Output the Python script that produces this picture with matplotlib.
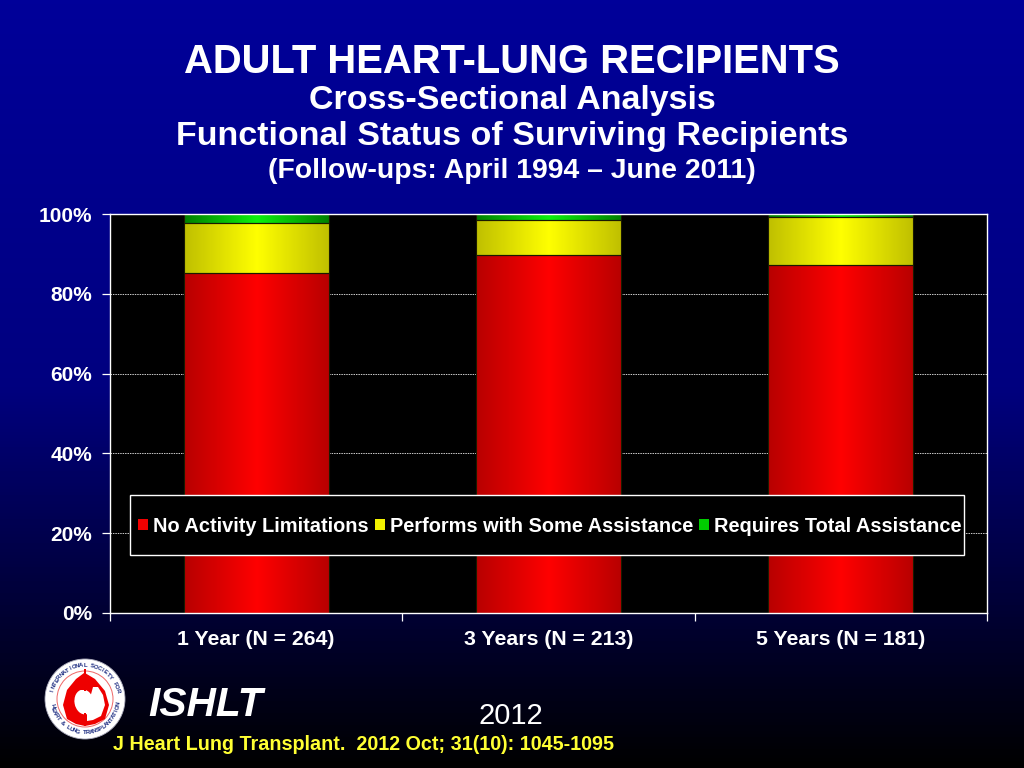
import numpy as np
import matplotlib
matplotlib.use("Agg")
import matplotlib.pyplot as plt
from matplotlib.colors import LinearSegmentedColormap
from matplotlib.patches import Patch, Circle, Ellipse, Polygon, Rectangle

categories = ["1 Year (N = 264)", "3 Years (N = 213)", "5 Years (N = 181)"]
series_names = ["No Activity Limitations", "Performs with Some Assistance", "Requires Total Assistance"]
no_limits = [85.2, 89.6, 87.3]
some_assist = [12.5, 9.0, 12.0]
total_assist = [2.3, 1.4, 0.7]
y_ticks = [0, 20, 40, 60, 80, 100]
y_labels = ["0%", "20%", "40%", "60%", "80%", "100%"]

plt.rcParams['font.family'] = ['Liberation Sans', 'DejaVu Sans']
W, H = 1024, 768
fig = plt.figure(figsize=(W / 100, H / 100), dpi=100)

# background
bg = fig.add_axes([0, 0, 1, 1], zorder=0)
bg.axis('off')
bg_cmap = LinearSegmentedColormap.from_list('bg', [(0, 0, 0.6), (0, 0, 0.5), (0, 0, 0.0)])
bg.imshow(np.linspace(0, 1, 256)[:, None], cmap=bg_cmap, aspect='auto', extent=[0, 1, 0, 1], vmin=0, vmax=1)

# chart
ax = fig.add_axes([110 / W, 1 - 613 / H, 877 / W, 399 / H], zorder=2)
ax.set_facecolor('black')
x = np.arange(len(categories))
bar_w = 0.497
cmaps = [
    LinearSegmentedColormap.from_list('r', [(0.72, 0, 0), (1, 0, 0), (0.72, 0, 0)]),
    LinearSegmentedColormap.from_list('y', [(0.75, 0.75, 0), (1, 1, 0), (0.75, 0.75, 0)]),
    LinearSegmentedColormap.from_list('g', [(0, 0.5, 0), (0.05, 0.95, 0.05), (0, 0.5, 0)]),
]
grad = np.linspace(0, 1, 128)[None, :]
bottom = np.zeros(3)
for vals, cmap in zip([no_limits, some_assist, total_assist], cmaps):
    bars = ax.bar(x, vals, bar_w, bottom=bottom, color=cmap(0.5), zorder=2)
    for b in bars:
        im = ax.imshow(grad, cmap=cmap, aspect='auto', zorder=2.1,
                       extent=[b.get_x(), b.get_x() + b.get_width(), b.get_y(), b.get_y() + b.get_height()])
        im.set_clip_path(b)
    ax.bar(x, vals, bar_w, bottom=bottom, fill=False, edgecolor=(0.1, 0.1, 0), linewidth=0.8, zorder=2.2)
    bottom = bottom + np.array(vals)

ax.set_xlim(-0.5, 2.5)
ax.set_ylim(0, 100)
ax.set_yticks(y_ticks)
ax.set_yticklabels(y_labels, color='white', fontsize=15, fontweight='bold', va='center_baseline')
ax.set_xticks(np.arange(len(categories) + 1) - 0.5)
ax.set_xticklabels([])
ax.set_xticks(x, minor=True)
ax.set_xticklabels(categories, minor=True, color='white', fontsize=15.3, fontweight='bold')
ax.tick_params(axis='x', which='minor', length=0, pad=12.5)
ax.tick_params(axis='both', which='major', color='white', length=6, width=0.9, direction='out')
ax.tick_params(axis='y', pad=7)
ax.grid(axis='y', color='#cccccc', linestyle=(0, (1.5, 1)), linewidth=0.7, zorder=1)
ax.set_axisbelow(True)
for s in ax.spines.values():
    s.set_color('white')
    s.set_linewidth(1.0)
    s.set_zorder(5)

# legend: frame is drawn by hand so its padding can be asymmetric like the original
ax.add_patch(Rectangle(((130 - 110) / 877, (613 - 555) / 399), 834 / 877, 60 / 399, transform=ax.transAxes,
                       facecolor='black', edgecolor='white', linewidth=1.0, zorder=6))
handles = [Patch(facecolor=c, edgecolor='none') for c in [(0.95, 0, 0), (0.95, 0.95, 0), (0, 0.8, 0)]]
leg = ax.legend(handles, series_names, ncol=3, loc='center left',
                bbox_to_anchor=((138 - 110) / 877, (613 - 526) / 399), frameon=False,
                labelcolor='white', prop={'weight': 'bold', 'size': 14.4},
                handlelength=0.5, handleheight=0.5, handletextpad=0.25, columnspacing=0.3,
                borderpad=0, borderaxespad=0)
leg.set_zorder(7)

# overlay in pixel coordinates
ov = fig.add_axes([0, 0, 1, 1], zorder=3)
ov.set_xlim(0, W)
ov.set_ylim(H, 0)
ov.axis('off')
ov.patch.set_alpha(0)
ov.text(512, 62, "ADULT HEART-LUNG RECIPIENTS", color='white', fontsize=28.8, fontweight='bold', ha='center', va='center')
ov.text(512, 101, "Cross-Sectional Analysis", color='white', fontsize=24.5, fontweight='bold', ha='center', va='center')
ov.text(512, 137, "Functional Status of Surviving Recipients", color='white', fontsize=24.5, fontweight='bold', ha='center', va='center')
ov.text(512, 171, "(Follow-ups: April 1994 \u2013 June 2011)", color='white', fontsize=20.4, fontweight='bold', ha='center', va='center')
ov.text(148, 705, "ISHLT", color='white', fontsize=29.3, fontweight='bold', fontstyle='italic', ha='left', va='center')
ov.text(511, 716, "2012", color='white', fontsize=21, ha='center', va='center')
ov.text(113, 744, "J Heart Lung Transplant.  2012 Oct; 31(10): 1045-1095", color='#ffff33', fontsize=14.2, fontweight='bold', ha='left', va='center')

# logo
cx, cy = 85, 699
red = '#ee0000'
ov.add_patch(Circle((cx, cy), 40, facecolor='white', edgecolor='#aab', linewidth=0.6))
ov.add_patch(Circle((cx, cy), 28, facecolor='white', edgecolor='#e66', linewidth=0.7))
left = [(-1, -26), (-9, -20), (-18, -9), (-22, 6), (-18, 20), (-9, 25), (0, 27)]
ov.add_patch(Polygon([(cx + a, cy + b) for a, b in left], facecolor=red, edgecolor='none'))
right = [(0, -26), (10, -20), (20, -8), (24, 6), (20, 20), (10, 25), (0, 27)]
ov.add_patch(Polygon([(cx + a, cy + b) for a, b in right], facecolor=red, edgecolor='none'))
inner = [(8, -12), (13, -12), (18, -4), (20, 6), (16, 17), (8, 21), (2, 22), (2, 10)]
ov.add_patch(Polygon([(cx + a, cy + b) for a, b in inner], facecolor='white', edgecolor='none'))
ov.add_patch(Ellipse((cx - 1, cy + 3), 19, 25, angle=-10, facecolor='white', edgecolor='none'))
ov.add_patch(Rectangle((cx - 1, cy - 30), 2, 22, facecolor=red, edgecolor='none'))
ov.add_patch(Rectangle((cx - 1, cy + 14), 2, 13, facecolor=red, edgecolor='none'))
ov.add_patch(Rectangle((cx - 7, cy - 12), 14, 2.5, facecolor=red, edgecolor='none'))


def ring(txt, a0, a1, r, flip=False):
    for ch, a in zip(txt, np.linspace(a0, a1, len(txt))):
        t = np.deg2rad(a)
        rot = a - 90 if not flip else a + 90
        ov.text(cx + r * np.cos(t), cy - r * np.sin(t), ch, fontsize=4.3, fontweight='bold', color='#1a2a80',
                ha='center', va='center', rotation=rot)


ring("INTERNATIONAL SOCIETY FOR", 165, 15, 33.5)
ring("HEART & LUNG TRANSPLANTATION", 192, 352, 33.5, flip=True)

fig.savefig('out.png', dpi=100)
